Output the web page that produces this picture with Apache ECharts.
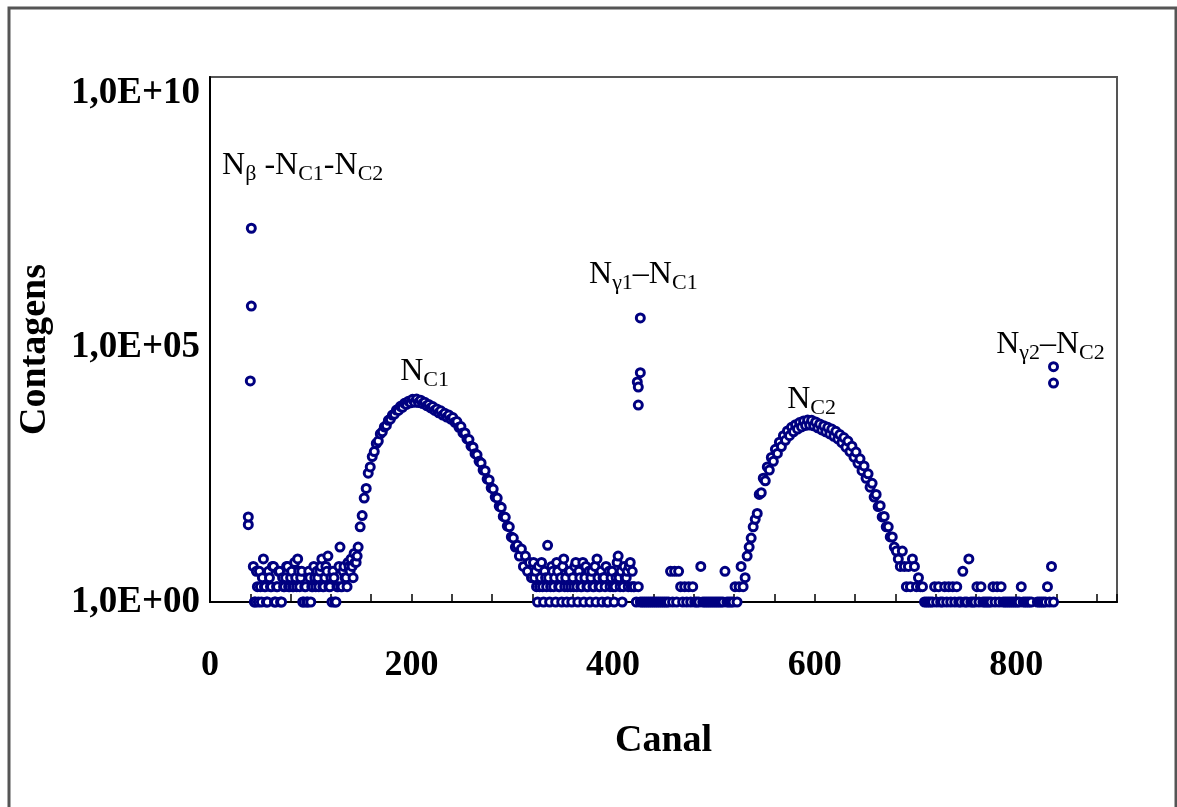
<!DOCTYPE html>
<html><head><meta charset="utf-8">
<script src="https://cdn.jsdelivr.net/npm/echarts@6/dist/echarts.min.js"></script>
<style>html,body{margin:0;padding:0;background:#fff}#c{width:1177px;height:807px}</style>
</head><body><div id="c"></div>
<script>
// ---- tick labels ----
const xTickLabels = [0, 200, 400, 600, 800];
const yTickExponents = [0, 5, 10];

// ---- spectrum counts; each region: first channel, channel step, counts (0 = empty) ----
const noiseLeftStart = 43, noiseLeftStep = 1;
const noiseLeft = [5,1,1,4,2,1,4,2,1,3, 7,2,2,1,1,4,3,2,2,5, 5,1,1,2,2,4,4,1,1,3,
  2,2,3,5,5,2,2,3,4,2, 2,6,3,2,7,4,2,3,4,1, 1,2,2,1,1,4,3,1,2,2, 5,3,2,4,3,2,4,5,7,2,
  2,3,5,4,8,2,2,3,1,4, 3,1,1,2,2,5,12,2,2,4, 5,3,3,2,6,5,4,7,5,3, 9,6,6,8];
const peakC1Start = 147, peakC1Step = 2;
const peakC1 = [12,30,50,110,170,340,450,720,900,1300, 1450,2000,2200,2750,2950,3700,3900,4700,4900,5900,
  5800,7000,6700,8000,7600,8800,8200,9600,8400,9700, 8300,9200,7900,8400,7200,7600,6500,6900,5800,6200,
  5200,5700,4700,5100,4300,4700,3900,4200,3400,3500, 2700,2800,2100,2100,1600,1550,1150,1100,820,780,
  580,540,390,380,260,250,175,165,115,110, 76,72,48,46,31,30,19,18,12,13, 8,11,5,8,4,6,3,6];
const noiseMidAStart = 322, noiseMidAStep = 1;
const noiseMidA = [3,4,2,1,5,2,3,6,2, 1,4,3,2,13,3,1,2,5,4, 2,3,1,6,4,2,2,3,1,5,
  7,2,3,1,2,4,4,2,1,3, 2,5,6,2,1,4,3,2,2,6, 1,3,5,2,2,4,1,3,4,2, 2,5,1,7,3,2,2,4,1,3,
  3,2,5,1,1,4,2,3,4,2, 1,2,3,6,8,3,2,4,1,2, 5,3,3,4,2,5,6,2,4,2];
const noiseMidBStart = 421, noiseMidBStep = 2;
const noiseMidB = [2,1,2,1,1,1,1,1,1,1, 1,1,1,1,1,1,1,1,4,1, 4,1,4,2,1,2,1,2,1,2,
  1,1,1,5,1,1,1,1,1,1, 1,1,1,1,1,4,1,1,1,1, 2,1,2,5,2,3,8,12,18,30, 42];
const peakC2Start = 543, peakC2Step = 2;
const peakC2 = [55,130,140,270,240,450,390,690,580,1000, 830,1380,1130,1850,1500,2300,1850,2700,2200,3050,
  2500,3350,2750,3600,2950,3750,3000,3700,2900,3450, 2650,3150,2400,2900,2200,2700,2000,2500,1800,2250,
  1600,1950,1350,1700,1100,1450,900,1150,700,880, 530,650,380,470,270,330,180,215,115,130,
  75,78,47,48,30,30,19,19,12,10, 7,5,10,5,2,5,2,7,5,2, 3,2];
const noiseRightStart = 707, noiseRightStep = 2;
const noiseRight = [2,1,1,1,1,1,2,1,2,1, 1,2,1,2,1,2,1,2,1,1, 4,1,1,7,1,1,1,2,1,2,
  1,1,1,1,1,2,1,2,1,2, 1,1,1,1,1,1,1,1,1,2, 1,1,1,1,1,0,0,1,1,1, 1,1,2,1,5,1];

// ---- isolated lines ----
const betaChannels = [38, 38, 40, 41, 41];
const betaCounts = [33, 47, 22000, 650000, 22000000];
const gamma1Channels = [427, 427, 424, 425, 425];
const gamma1Counts = [380000, 32000, 21000, 16700, 7400];
const gamma2Channels = [837, 837];
const gamma2Counts = [42000, 20000];

// ---- annotations [channel, counts] ----
const annotations = [
  {name: 'beta', coord: [92, 3.7e8], text: '{n|N}{s|β}{n| -N}{s|C1}{n|-N}{s|C2}'},
  {name: 'g1', coord: [430, 2.65e6], text: '{n|N}{s|γ1}{n|–N}{s|C1}'},
  {name: 'c1', coord: [213, 3.3e4], text: '{n|N}{s|C1}'},
  {name: 'c2', coord: [597, 9300], text: '{n|N}{s|C2}'},
  {name: 'g2', coord: [834, 1.12e5], text: '{n|N}{s|γ2}{n|–N}{s|C2}'}
];

function region(start, step, vals) {
  const out = [];
  vals.forEach((v, i) => { if (v > 0) out.push([start + i * step, v]); });
  return out;
}
function pairs(chs, cts) { return chs.map((c, i) => [c, cts[i]]); }

const data = [].concat(
  pairs(betaChannels, betaCounts),
  region(noiseLeftStart, noiseLeftStep, noiseLeft),
  region(peakC1Start, peakC1Step, peakC1),
  region(noiseMidAStart, noiseMidAStep, noiseMidA),
  region(noiseMidBStart, noiseMidBStep, noiseMidB),
  pairs(gamma1Channels, gamma1Counts),
  region(peakC2Start, peakC2Step, peakC2),
  region(noiseRightStart, noiseRightStep, noiseRight),
  pairs(gamma2Channels, gamma2Counts)
);

const serif = 'Liberation Serif';
const chart = echarts.init(document.getElementById('c'));
chart.setOption({
  animation: false,
  backgroundColor: '#ffffff',
  graphic: [{
    type: 'rect', silent: true, z: -10,
    shape: {x: 9, y: 8, width: 1167, height: 820},
    style: {fill: 'none', stroke: '#555', lineWidth: 3}
  }],
  grid: {left: 210, right: 60, top: 77, bottom: 205, show: true, borderColor: '#555', borderWidth: 2},
  xAxis: {
    type: 'value', min: 0, max: 900, interval: 40,
    name: 'Canal', nameLocation: 'middle', nameGap: 120,
    nameTextStyle: {fontFamily: serif, fontWeight: 'bold', fontSize: 38, color: '#000'},
    axisLine: {show: true, lineStyle: {color: '#000', width: 2}},
    axisTick: {show: true, inside: true, length: 8, lineStyle: {color: '#000', width: 1.5}},
    splitLine: {show: false},
    axisLabel: {
      margin: 46, color: '#000', fontFamily: serif, fontWeight: 'bold', fontSize: 36,
      formatter: v => xTickLabels.indexOf(v) >= 0 ? String(v) : ''
    }
  },
  yAxis: {
    type: 'log', logBase: 10, min: 1, max: 2.06e10, interval: 5,
    name: 'Contagens', nameLocation: 'middle', nameGap: 156,
    nameTextStyle: {fontFamily: serif, fontWeight: 'bold', fontSize: 38, color: '#000', padding: [0, 20, 0, 0]},
    axisLine: {show: true, lineStyle: {color: '#000', width: 2}},
    axisTick: {show: false},
    splitLine: {show: false},
    axisLabel: {
      margin: 10, color: '#000', fontFamily: serif, fontWeight: 'bold', fontSize: 37,
      showMaxLabel: false,
      formatter: v => {
        const l = Math.log10(v), e = Math.round(l);
        if (Math.abs(l - e) > 1e-6 || yTickExponents.indexOf(e) < 0) return '';
        return '1,0E+' + (e < 10 ? '0' : '') + e;
      }
    }
  },
  series: [{
    type: 'scatter',
    data: data,
    symbol: 'circle',
    symbolSize: 8,
    clip: false,
    itemStyle: {color: '#ffffff', borderColor: '#000080', borderWidth: 3, opacity: 1},
    emphasis: {disabled: true},
    markPoint: {
      symbol: 'circle', symbolSize: 0, silent: true,
      label: {
        show: true, position: 'inside', color: '#000',
        formatter: p => p.data.text,
        rich: {
          n: {fontFamily: serif, fontSize: 32, lineHeight: 32, color: '#000', verticalAlign: 'top'},
          s: {fontFamily: serif, fontSize: 22, lineHeight: 22, color: '#000', verticalAlign: 'top', padding: [13, 0, 0, 0]}
        }
      },
      data: annotations.map(a => ({name: a.name, coord: a.coord, text: a.text}))
    }
  }]
});
</script></body></html>
